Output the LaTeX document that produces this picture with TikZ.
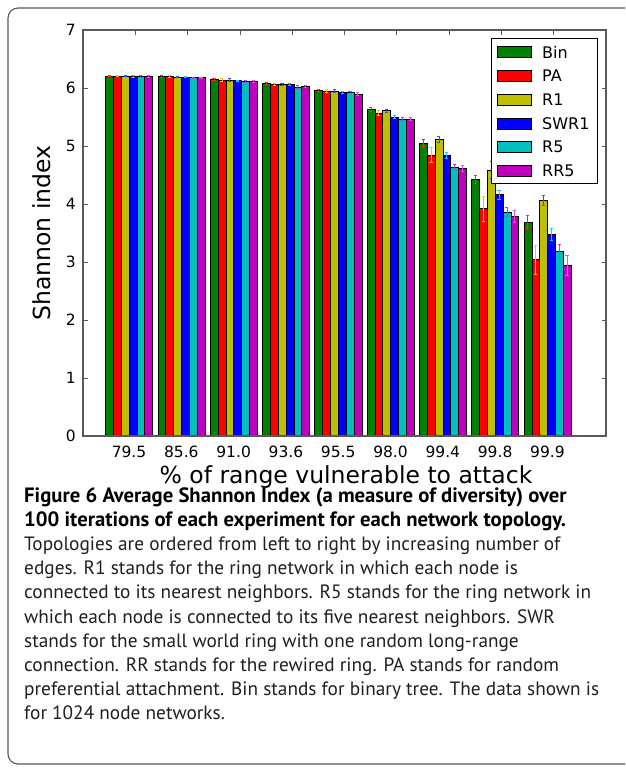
\documentclass[tikz,border=0pt]{standalone}
\usepackage{fontspec}
\setmainfont{DejaVu Sans}
\newfontfamily\capfont{PT Sans}
\definecolor{cBin}{rgb}{0,0.5,0}
\definecolor{cPA}{rgb}{1,0,0}
\definecolor{cRone}{rgb}{0.75,0.75,0}
\definecolor{cSWR}{rgb}{0,0,1}
\definecolor{cRfive}{rgb}{0,0.75,0.75}
\definecolor{cRR}{rgb}{0.75,0,0.75}
\definecolor{eBin}{rgb}{1,0.15,0.15}
\definecolor{ePA}{rgb}{0.95,0.75,0.1}
\definecolor{eRone}{rgb}{0.2,0.3,1}
\definecolor{eSWR}{rgb}{0.1,0.8,0.9}
\definecolor{eRfive}{rgb}{0.6,0.3,0.9}
\definecolor{eRR}{rgb}{0.9,0.3,0.9}
\definecolor{framegray}{rgb}{0.35,0.35,0.35}
\definecolor{captextcol}{rgb}{0.12,0.12,0.12}
\tikzset{
  barbox/.style={draw=black, line width=0.45pt},
  errbar/.style={line width=0.7pt},
  axisline/.style={draw=framegray, line width=1.1pt},
  tickline/.style={draw=framegray, line width=0.8pt},
  ticklab/.style={font=\fontsize{15.5}{18}\selectfont, inner sep=0pt},
  axlab/.style={font=\fontsize{23.5}{28}\selectfont, inner sep=0pt},
  legtext/.style={font=\fontsize{16}{19}\selectfont, anchor=west, inner sep=0pt},
  captext/.style={font=\capfont\fontsize{19.3}{24}\selectfont, text=captextcol, anchor=base west, inner sep=0pt},
  capbold/.style={font=\capfont\bfseries\fontsize{20.7}{24}\selectfont, text=black, anchor=base west, inner sep=0pt}
}
\begin{document}
\begin{tikzpicture}[x=1pt,y=-1pt]
\useasboundingbox (0,0) rectangle (625,774);
\begin{scope}
\clip (0,0) rectangle (625,774);
\draw[framegray, line width=1.1pt, rounded corners=10pt] (8,8) rectangle (660,764);
\end{scope}
% plot
\begin{scope}[shift={(83,436)}]
\begin{scope}[x=52.3pt,y=58pt]
\foreach \g/\a/\b/\c/\d/\e/\f/\ea/\eb/\ec/\ed/\ee/\ef in {
  0/6.21/6.21/6.21/6.20/6.20/6.20/0.01/0.01/0.01/0.01/0.01/0.01,
  1/6.20/6.20/6.19/6.19/6.18/6.18/0.01/0.01/0.01/0.01/0.01/0.01,
  2/6.15/6.14/6.14/6.13/6.11/6.11/0.01/0.02/0.02/0.01/0.02/0.02,
  3/6.08/6.06/6.06/6.06/6.02/6.03/0.02/0.02/0.02/0.02/0.02/0.02,
  4/5.96/5.95/5.95/5.93/5.92/5.90/0.02/0.03/0.03/0.02/0.02/0.03,
  5/5.63/5.57/5.61/5.50/5.47/5.47/0.03/0.04/0.03/0.03/0.03/0.03,
  6/5.05/4.84/5.12/4.84/4.64/4.62/0.06/0.13/0.05/0.05/0.05/0.05,
  7/4.43/3.92/4.59/4.16/3.86/3.79/0.07/0.22/0.15/0.08/0.08/0.10,
  8/3.69/3.04/4.06/3.48/3.19/2.94/0.11/0.25/0.09/0.10/0.11/0.17} {
  \foreach \j/\v/\er/\col/\ecol in {0/\a/\ea/cBin/eBin, 1/\b/\eb/cPA/ePA, 2/\c/\ec/cRone/eRone,
      3/\d/\ed/cSWR/eSWR, 4/\e/\ee/cRfive/eRfive, 5/\f/\ef/cRR/eRR} {
    \filldraw[barbox, fill=\col] ({\g+0.43+0.15*\j},0) rectangle ({\g+0.58+0.15*\j},\v);
    \draw[errbar, \ecol] ({\g+0.505+0.15*\j},{\v-\er}) -- ({\g+0.505+0.15*\j},{\v+\er});
    \draw[errbar, \ecol] ({\g+0.475+0.15*\j},{\v-\er}) -- ({\g+0.535+0.15*\j},{\v-\er});
    \draw[errbar, \ecol] ({\g+0.475+0.15*\j},{\v+\er}) -- ({\g+0.535+0.15*\j},{\v+\er});
  }
}
\draw[axisline] (0,0) rectangle (10,7);
\foreach \k in {1,...,9} {\draw[tickline] (\k,7) -- ++(0,-4.5pt);}
\foreach \k in {1,...,6} {\draw[tickline] (0,\k) -- ++(4.5pt,0); \draw[tickline] (10,\k) -- ++(-4.5pt,0);}
\foreach \k in {0,...,7} {\node[ticklab, anchor=east, xshift=-7pt] (yt\k) at (0,\k) {\k};}
\foreach \lab [count=\i from 0] in {79.5,85.6,91.0,93.6,95.5,98.0,99.4,99.8,99.9} {
  \node[ticklab, anchor=base, yshift=-21pt] (xt\i) at ({\i+0.88},0) {\lab};
}
\end{scope}
\end{scope}
\node[axlab, anchor=base] (xlabel) at (346,483) {\% of range vulnerable to attack};
\node[axlab, anchor=base, rotate=90] (ylabel) at (50,233) {Shannon index};
% legend
\draw[fill=white, draw=black, line width=0.8pt] (491,38) rectangle (597,183);
\foreach \n/\col [count=\i from 0] in {Bin/cBin, PA/cPA, R1/cRone, SWR1/cSWR, R5/cRfive, RR5/cRR} {
  \filldraw[fill=\col, draw=black, line width=0.6pt] (497,{52+23.8*\i-5.5}) rectangle (531,{52+23.8*\i+5.5});
  \node[legtext] (leg\i) at (542,{52+23.8*\i}) {\n};
}
% caption
\node[capbold] (cap1) at (24,502) {Figure 6 Average Shannon Index (a measure of diversity) over};
\node[capbold] (cap2) at (24,526.2) {100 iterations of each experiment for each network topology.};
\node[captext] (cap3) at (24,550.4) {Topologies are ordered from left to right by increasing number of};
\node[captext] (cap4) at (24,574.6) {edges. R1 stands for the ring network in which each node is};
\node[captext] (cap5) at (24,598.8) {connected to its nearest neighbors. R5 stands for the ring network in};
\node[captext] (cap6) at (24,623) {which each node is connected to its five nearest neighbors. SWR};
\node[captext] (cap7) at (24,647.2) {stands for the small world ring with one random long-range};
\node[captext] (cap8) at (24,671.4) {connection. RR stands for the rewired ring. PA stands for random};
\node[captext] (cap9) at (24,695.6) {preferential attachment. Bin stands for binary tree. The data shown is};
\node[captext] (cap10) at (24,719.8) {for 1024 node networks.};
\end{tikzpicture}
\end{document}
